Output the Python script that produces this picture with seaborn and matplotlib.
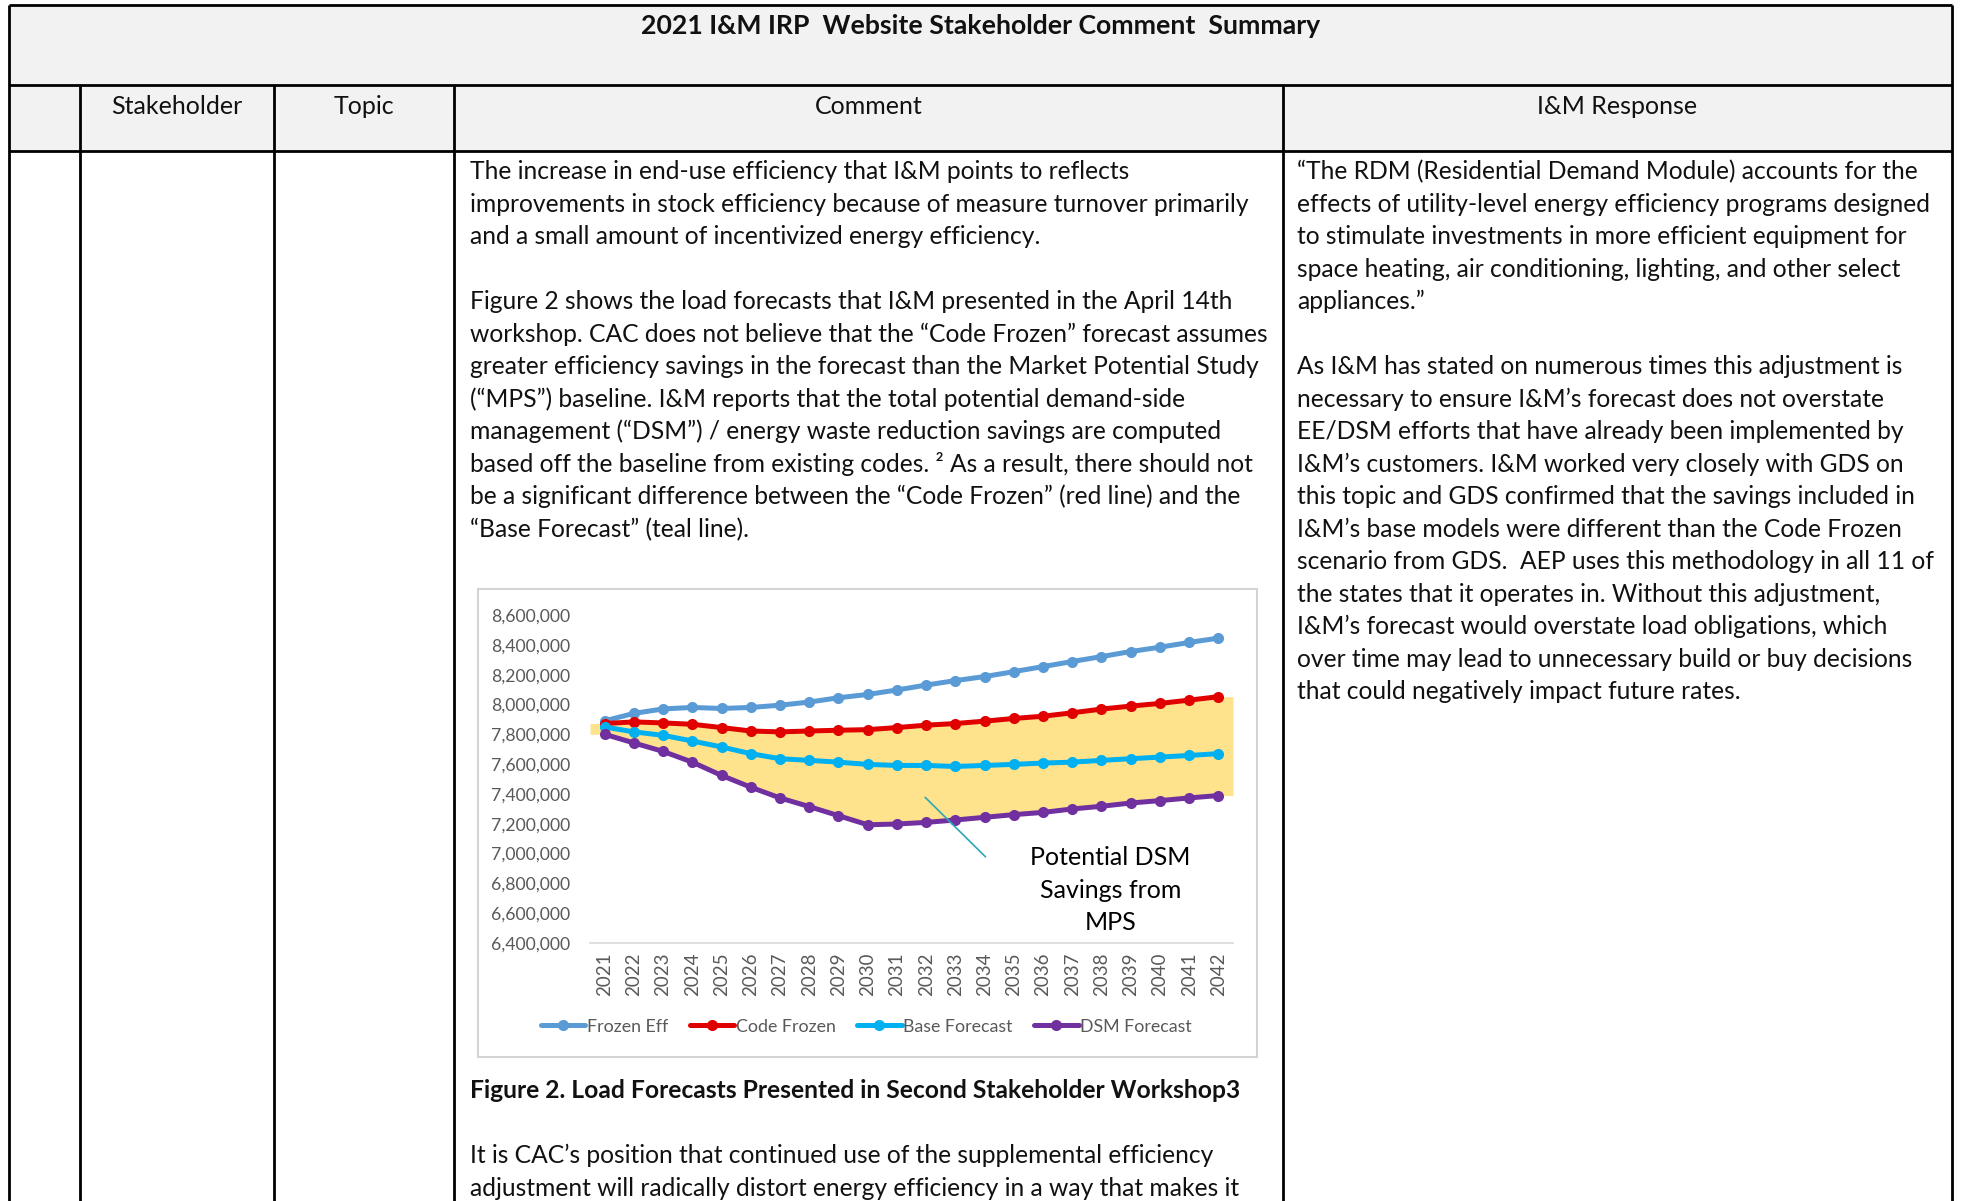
import matplotlib
matplotlib.use("Agg")
import numpy as np
import pandas as pd
import matplotlib.pyplot as plt
import seaborn as sns
from matplotlib.patches import Rectangle
from matplotlib.lines import Line2D

# chart data (MWh)
years = list(range(2021, 2043))
frozen_eff = [7890000, 7940000, 7970000, 7980000, 7973000, 7980000, 7995000, 8016000,
              8045000, 8067000, 8097000, 8130000, 8160000, 8187000, 8220000, 8254000,
              8288000, 8321000, 8355000, 8384000, 8416000, 8445000]
code_frozen = [7872000, 7883000, 7876000, 7867000, 7845000, 7822000, 7816000, 7822000,
               7827000, 7831000, 7845000, 7861000, 7872000, 7888000, 7906000, 7921000,
               7944000, 7969000, 7989000, 8007000, 8029000, 8052000]
base_forecast = [7849000, 7816000, 7793000, 7755000, 7715000, 7670000, 7636000, 7625000,
                 7613000, 7598000, 7591000, 7591000, 7584000, 7591000, 7598000, 7607000,
                 7613000, 7625000, 7636000, 7647000, 7658000, 7670000]
dsm_forecast = [7800000, 7742000, 7685000, 7613000, 7524000, 7445000, 7373000, 7315000,
                7254000, 7193000, 7198000, 7209000, 7225000, 7243000, 7261000, 7276000,
                7299000, 7317000, 7339000, 7355000, 7373000, 7389000]
series_names = ["Frozen Eff", "Code Frozen", "Base Forecast", "DSM Forecast"]
series_colors = ["#5B9BD5", "#E00000", "#00B0F0", "#7030A0"]
y_ticks = [6400000, 6600000, 6800000, 7000000, 7200000, 7400000, 7600000,
           7800000, 8000000, 8200000, 8400000, 8600000]

# document text
title = "2021 I&M IRP  Website Stakeholder Comment  Summary"
headers = ["Stakeholder", "Topic", "Comment", "I&M Response"]
comment_lines = [
    "The increase in end-use efficiency that I&M points to reflects",
    "improvements in stock efficiency because of measure turnover primarily",
    "and a small amount of incentivized energy efficiency.",
    "",
    "Figure 2 shows the load forecasts that I&M presented in the April 14th",
    "workshop. CAC does not believe that the \u201cCode Frozen\u201d forecast assumes",
    "greater efficiency savings in the forecast than the Market Potential Study",
    "(\u201cMPS\u201d) baseline. I&M reports that the total potential demand-side",
    "management (\u201cDSM\u201d) / energy waste reduction savings are computed",
    "based off the baseline from existing codes. \u00b2 As a result, there should not",
    "be a significant difference between the \u201cCode Frozen\u201d (red line) and the",
    "\u201cBase Forecast\u201d (teal line).",
]
caption = "Figure 2. Load Forecasts Presented in Second Stakeholder Workshop3"
comment_tail = [
    "It is CAC\u2019s position that continued use of the supplemental efficiency",
    "adjustment will radically distort energy efficiency in a way that makes it",
]
response_lines = [
    "\u201cThe RDM (Residential Demand Module) accounts for the",
    "effects of utility-level energy efficiency programs designed",
    "to stimulate investments in more efficient equipment for",
    "space heating, air conditioning, lighting, and other select",
    "appliances.\u201d",
    "",
    "As I&M has stated on numerous times this adjustment is",
    "necessary to ensure I&M\u2019s forecast does not overstate",
    "EE/DSM efforts that have already been implemented by",
    "I&M\u2019s customers. I&M worked very closely with GDS on",
    "this topic and GDS confirmed that the savings included in",
    "I&M\u2019s base models were different than the Code Frozen",
    "scenario from GDS.  AEP uses this methodology in all 11 of",
    "the states that it operates in. Without this adjustment,",
    "I&M\u2019s forecast would overstate load obligations, which",
    "over time may lead to unnecessary build or buy decisions",
    "that could negatively impact future rates.",
]

sns.set_theme(style="white")
plt.rcParams["font.family"] = ["Lato", "DejaVu Sans"]

W, H = 1961, 1201
fig = plt.figure(figsize=(W / 100, H / 100), dpi=100)

# page / table drawn in pixel coordinates
bg = fig.add_axes([0, 0, 1, 1])
bg.set_xlim(0, W)
bg.set_ylim(H, 0)
bg.axis("off")

col_x = [9, 80, 274, 454, 1283, 1952]
row_title, row_head, row_top = 85, 151, 5
bg.add_patch(Rectangle((col_x[0], row_top), col_x[-1] - col_x[0], row_head - row_top,
                       facecolor="#F2F2F2", edgecolor="none"))
lw = 2.0
bg.hlines([row_top, row_title, row_head], col_x[0], col_x[-1], color="black", lw=lw)
bg.vlines([col_x[0], col_x[-1]], row_top, H, color="black", lw=lw)
bg.vlines(col_x[1:-1], row_title, H, color="black", lw=lw)

fs = 17.7
txt = "#111111"
bg.text((col_x[0] + col_x[-1]) / 2, 26, title, ha="center", va="center",
        fontsize=19.2, fontweight="bold", color=txt)
for i, h in enumerate(headers):
    bg.text((col_x[i + 1] + col_x[i + 2]) / 2, 106, h, ha="center", va="center",
            fontsize=18, color=txt)

pitch = 32.52
y0 = 171.5
for i, line in enumerate(comment_lines):
    bg.text(470, y0 + i * pitch, line, ha="left", va="center", fontsize=fs, color=txt)
bg.text(470, 1091, caption, ha="left", va="center", fontsize=fs, fontweight="bold", color=txt)
for i, line in enumerate(comment_tail):
    bg.text(470, 1155.5 + i * pitch, line, ha="left", va="center", fontsize=fs, color=txt)
for i, line in enumerate(response_lines):
    bg.text(1297, y0 + i * pitch, line, ha="left", va="center", fontsize=fs, color=txt)

# chart frame
bg.add_patch(Rectangle((478, 589), 779, 468, facecolor="white", edgecolor="#D4D4D4", lw=1.5))

# chart
ax = fig.add_axes([590 / W, 1 - 943 / H, (1233 - 590) / W, (943 - 615) / H])
ax.set_facecolor("none")

df = pd.DataFrame({
    "year": years * 4,
    "load": frozen_eff + code_frozen + base_forecast + dsm_forecast,
    "series": np.repeat(series_names, len(years)),
})

# shaded band between Code Frozen and DSM Forecast, stretched to the category edges
band_x = [years[0] - 0.5] + years + [years[-1] + 0.5]
band_hi = [code_frozen[0]] + code_frozen + [code_frozen[-1]]
band_lo = [dsm_forecast[0]] + dsm_forecast + [dsm_forecast[-1]]
ax.fill_between(band_x, band_lo, band_hi, color="#FFE38C", lw=0, zorder=1)

sns.lineplot(data=df, x="year", y="load", hue="series", hue_order=series_names,
             palette=series_colors, marker="o", markersize=8, markeredgewidth=0,
             linewidth=3.6, legend=False, ax=ax, zorder=3)

ax.set_xlim(years[0] - 0.5, years[-1] + 0.5)
ax.set_ylim(y_ticks[0], y_ticks[-1])
ax.set_xticks(years)
ax.set_xticklabels([str(y) for y in years], rotation=90, fontsize=13.5, color="#595959")
ax.set_yticks(y_ticks)
ax.set_yticklabels([f"{v:,}" for v in y_ticks], fontsize=12.7, color="#595959")
ax.tick_params(axis="both", length=0)
ax.tick_params(axis="y", pad=14)
ax.tick_params(axis="x", pad=7)
ax.set_xlabel("")
ax.set_ylabel("")
for s in ["top", "right", "left"]:
    ax.spines[s].set_visible(False)
ax.spines["bottom"].set_color("#D9D9D9")
ax.spines["bottom"].set_linewidth(1.2)

ax.annotate("", xy=(2031.9, 7390000), xytext=(2034.1, 6965000),
            arrowprops=dict(arrowstyle="-", color="#2AA7B8", lw=1.2))
ax.text(2038.3, 6755000, "Potential DSM\nSavings from\nMPS", ha="center", va="center",
        fontsize=18, linespacing=1.5, color="black")

handles = [Line2D([0], [0], color=c, lw=3.6, marker="o", markersize=8, markeredgewidth=0)
           for c in series_colors]
leg = ax.legend(handles, series_names, loc="center", bbox_to_anchor=(0.43, -0.255),
                ncol=4, frameon=False, fontsize=12.8, handlelength=2.5, handletextpad=0.1,
                columnspacing=1.2)
for t in leg.get_texts():
    t.set_color("#595959")

fig.savefig("out.png", dpi=100)
